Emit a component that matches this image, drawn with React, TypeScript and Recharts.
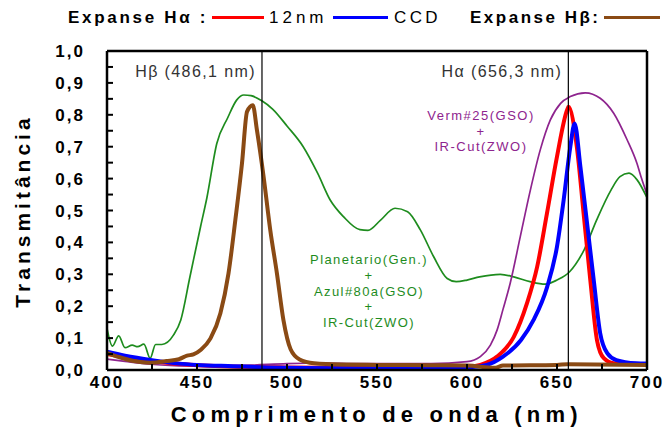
import React from 'react';
import { LineChart, Line, XAxis, YAxis, ReferenceLine } from 'recharts';

const FONT = '"Liberation Sans", Arial, sans-serif';

const COLORS = {
  planetario: '#1e8c1e',
  verm: '#8e248e',
  red12: '#ff0000',
  ccd: '#0000ff',
  hbeta: '#8a4a14',
};

const xTicks = [400, 425, 450, 475, 500, 525, 550, 575, 600, 625, 650, 675, 700];
const yTicks = [0, 0.05, 0.1, 0.15, 0.2, 0.25, 0.3, 0.35, 0.4, 0.45, 0.5, 0.55, 0.6, 0.65, 0.7, 0.75, 0.8, 0.85, 0.9, 0.95, 1];

const hBetaLine = 486.1;
const hAlphaLine = 656.3;

// Planetario(Gen.) + Azul#80a(GSO) + IR-Cut(ZWO)
const planetario = [
  { x: 400, y: 0.13 }, { x: 403, y: 0.075 }, { x: 406.5, y: 0.107 }, { x: 410, y: 0.07 },
  { x: 414, y: 0.078 }, { x: 417, y: 0.073 }, { x: 420.5, y: 0.081 }, { x: 424, y: 0.037 },
  { x: 427, y: 0.08 }, { x: 430.5, y: 0.08 }, { x: 437, y: 0.11 }, { x: 441, y: 0.157 },
  { x: 446, y: 0.29 }, { x: 452, y: 0.45 }, { x: 455.5, y: 0.54 }, { x: 461, y: 0.71 },
  { x: 467, y: 0.79 }, { x: 472, y: 0.846 }, { x: 476, y: 0.862 }, { x: 480, y: 0.86 },
  { x: 486, y: 0.844 }, { x: 492, y: 0.818 }, { x: 500, y: 0.765 }, { x: 509, y: 0.7 },
  { x: 517, y: 0.617 }, { x: 524, y: 0.533 }, { x: 531.5, y: 0.48 }, { x: 540.5, y: 0.44 },
  { x: 545, y: 0.438 }, { x: 552, y: 0.47 }, { x: 560, y: 0.507 }, { x: 567, y: 0.496 },
  { x: 574, y: 0.44 }, { x: 581.5, y: 0.355 }, { x: 589, y: 0.287 }, { x: 594, y: 0.277 },
  { x: 600, y: 0.282 }, { x: 607, y: 0.292 }, { x: 618.5, y: 0.3 }, { x: 626, y: 0.292 },
  { x: 635, y: 0.277 }, { x: 643.5, y: 0.269 }, { x: 650, y: 0.282 }, { x: 657, y: 0.308 },
  { x: 665, y: 0.376 }, { x: 672, y: 0.47 }, { x: 680, y: 0.564 }, { x: 685, y: 0.606 },
  { x: 690, y: 0.617 }, { x: 694.5, y: 0.596 }, { x: 700, y: 0.54 },
];

// Verm#25(GSO) + IR-Cut(ZWO)
const verm = [
  { x: 400, y: 0.034 }, { x: 410, y: 0.027 }, { x: 424, y: 0.018 }, { x: 440, y: 0.013 },
  { x: 460, y: 0.012 }, { x: 480, y: 0.015 }, { x: 500, y: 0.02 }, { x: 520, y: 0.022 },
  { x: 540, y: 0.02 }, { x: 560, y: 0.02 }, { x: 580, y: 0.02 }, { x: 600, y: 0.026 },
  { x: 607.4, y: 0.042 }, { x: 613, y: 0.078 }, { x: 616.7, y: 0.125 }, { x: 620, y: 0.19 },
  { x: 624, y: 0.272 }, { x: 629.6, y: 0.418 }, { x: 635.2, y: 0.564 }, { x: 640.7, y: 0.69 },
  { x: 646.3, y: 0.784 }, { x: 652, y: 0.836 }, { x: 657.4, y: 0.857 }, { x: 665.7, y: 0.869 },
  { x: 674, y: 0.852 }, { x: 681.5, y: 0.805 }, { x: 689, y: 0.721 }, { x: 694.4, y: 0.648 },
  { x: 697, y: 0.6 }, { x: 700, y: 0.55 },
];

// Expanse H-alpha 12nm
const red12nm = [
  { x: 400, y: 0.05 }, { x: 425, y: 0.028 }, { x: 450, y: 0.015 }, { x: 500, y: 0.008 },
  { x: 550, y: 0.006 }, { x: 600, y: 0.01 }, { x: 607.4, y: 0.016 }, { x: 616.7, y: 0.042 },
  { x: 626, y: 0.104 }, { x: 633.3, y: 0.209 }, { x: 639, y: 0.324 }, { x: 644.4, y: 0.49 },
  { x: 650, y: 0.669 }, { x: 655.6, y: 0.815 }, { x: 656.4, y: 0.825 }, { x: 661, y: 0.7 },
  { x: 664.8, y: 0.49 }, { x: 668.5, y: 0.282 }, { x: 672.2, y: 0.094 }, { x: 676, y: 0.037 },
  { x: 681.5, y: 0.021 }, { x: 700, y: 0.018 },
];

// Expanse H-alpha CCD
const ccd = [
  { x: 400, y: 0.057 }, { x: 410, y: 0.045 }, { x: 425, y: 0.031 }, { x: 440, y: 0.02 },
  { x: 450, y: 0.016 }, { x: 470, y: 0.012 }, { x: 490, y: 0.008 }, { x: 510, y: 0.006 },
  { x: 540, y: 0.005 }, { x: 570, y: 0.006 }, { x: 600, y: 0.008 }, { x: 611, y: 0.016 },
  { x: 620, y: 0.042 }, { x: 630, y: 0.094 }, { x: 637, y: 0.157 }, { x: 644.5, y: 0.26 },
  { x: 650, y: 0.387 }, { x: 653.7, y: 0.533 }, { x: 657.4, y: 0.7 }, { x: 659.8, y: 0.773 },
  { x: 663, y: 0.637 }, { x: 666.7, y: 0.46 }, { x: 670.4, y: 0.282 }, { x: 674, y: 0.115 },
  { x: 678, y: 0.052 }, { x: 683, y: 0.031 }, { x: 694, y: 0.021 }, { x: 700, y: 0.02 },
];

// Expanse H-beta
const hBeta = [
  { x: 400, y: 0.054 }, { x: 407, y: 0.04 }, { x: 415, y: 0.028 }, { x: 424, y: 0.023 },
  { x: 433, y: 0.028 }, { x: 440, y: 0.034 }, { x: 444.5, y: 0.045 }, { x: 448, y: 0.049 },
  { x: 452, y: 0.063 }, { x: 457.5, y: 0.099 }, { x: 463, y: 0.178 }, { x: 467.5, y: 0.303 },
  { x: 471.3, y: 0.47 }, { x: 475, y: 0.648 }, { x: 477.8, y: 0.81 }, { x: 481, y: 0.83 },
  { x: 483.3, y: 0.752 }, { x: 487, y: 0.606 }, { x: 490.7, y: 0.439 }, { x: 494.4, y: 0.303 },
  { x: 498, y: 0.157 }, { x: 502, y: 0.065 }, { x: 507, y: 0.033 }, { x: 515, y: 0.021 },
  { x: 530, y: 0.017 }, { x: 550, y: 0.016 }, { x: 580, y: 0.015 }, { x: 600, y: 0.014 },
  { x: 615.8, y: 0.007 }, { x: 620, y: 0.014 }, { x: 650, y: 0.016 }, { x: 656, y: 0.018 },
  { x: 700, y: 0.016 },
];

const fmtX = (v: number) => (v % 50 === 0 ? String(v) : '');
const fmtY = (v: number) =>
  Math.round(v * 100) % 10 === 0 ? v.toFixed(1).replace('.', ',') : '';

function LineTag(props: any) {
  const { viewBox, text } = props;
  if (!viewBox) return null;
  return (
    <text
      x={viewBox.x - 6}
      y={viewBox.y + 26}
      textAnchor="end"
      fontFamily={FONT}
      fontSize={16}
      letterSpacing={1.4}
      fill="#333"
    >
      {text}
    </text>
  );
}

const axisLine = { stroke: '#000', strokeWidth: 2.5 };
const tickLine = { stroke: '#000', strokeWidth: 2 };
const tickFont = { fill: '#000', fontSize: 17, fontWeight: 'bold', fontFamily: FONT, letterSpacing: 2 };

function LegendSwatch({ left, width, color }: { left: number; width: number; color: string }) {
  return (
    <div style={{ position: 'absolute', left, top: 8, width, height: 3, background: color }} />
  );
}

export default function App() {
  const text = (left: number, label: string, bold: boolean, spacing: number) => (
    <span
      style={{
        position: 'absolute',
        left,
        top: 0,
        lineHeight: '20px',
        fontSize: 17,
        fontWeight: bold ? 'bold' : 'normal',
        letterSpacing: spacing,
        whiteSpace: 'nowrap',
      }}
    >
      {label}
    </span>
  );

  return (
    <div style={{ position: 'relative', width: 656, height: 425, fontFamily: FONT, color: '#000' }}>
      <LineChart width={656} height={425} margin={{ top: 42, right: 16, bottom: 0, left: 0 }}>
        <XAxis
          xAxisId="b"
          type="number"
          dataKey="x"
          domain={[400, 700]}
          ticks={xTicks}
          interval={0}
          tickSize={-6}
          tickMargin={12}
          tickFormatter={fmtX}
          height={63}
          axisLine={axisLine}
          tickLine={tickLine}
          tick={tickFont}
        />
        <XAxis
          xAxisId="t"
          orientation="top"
          type="number"
          dataKey="x"
          domain={[400, 700]}
          ticks={xTicks}
          interval={0}
          tickSize={-6}
          tick={false}
          height={1}
          axisLine={axisLine}
          tickLine={tickLine}
        />
        <YAxis
          yAxisId="l"
          type="number"
          domain={[0, 1]}
          ticks={yTicks}
          interval={0}
          tickSize={-6}
          tickMargin={28}
          tickFormatter={fmtY}
          width={99}
          axisLine={axisLine}
          tickLine={tickLine}
          tick={tickFont}
        />
        <YAxis
          yAxisId="r"
          orientation="right"
          type="number"
          domain={[0, 1]}
          ticks={yTicks}
          interval={0}
          tickSize={-6}
          tick={false}
          width={1}
          axisLine={axisLine}
          tickLine={tickLine}
        />
        <Line xAxisId="b" yAxisId="l" data={planetario} dataKey="y" type="monotone" stroke={COLORS.planetario} strokeWidth={1.7} dot={false} isAnimationActive={false} />
        <Line xAxisId="b" yAxisId="l" data={verm} dataKey="y" type="monotone" stroke={COLORS.verm} strokeWidth={1.7} dot={false} isAnimationActive={false} />
        <Line xAxisId="b" yAxisId="l" data={red12nm} dataKey="y" type="monotone" stroke={COLORS.red12} strokeWidth={4} dot={false} isAnimationActive={false} />
        <Line xAxisId="b" yAxisId="l" data={ccd} dataKey="y" type="monotone" stroke={COLORS.ccd} strokeWidth={4} dot={false} isAnimationActive={false} />
        <Line xAxisId="b" yAxisId="l" data={hBeta} dataKey="y" type="monotone" stroke={COLORS.hbeta} strokeWidth={4} dot={false} isAnimationActive={false} />
        <ReferenceLine xAxisId="b" yAxisId="l" x={hBetaLine} stroke="#000" strokeWidth={1.2} label={<LineTag text="Hβ (486,1 nm)" />} />
        <ReferenceLine xAxisId="b" yAxisId="l" x={hAlphaLine} stroke="#000" strokeWidth={1.2} label={<LineTag text="Hα (656,3 nm)" />} />
      </LineChart>

      {/* legend */}
      {text(60, 'Expanse Hα :', true, 2.7)}
      <LegendSwatch left={204} width={52} color={COLORS.red12} />
      {text(261, '12nm', false, 4)}
      <LegendSwatch left={325} width={55} color={COLORS.ccd} />
      {text(386, 'CCD', false, 3.4)}
      {text(462, 'Expanse Hβ:', true, 2.5)}
      <LegendSwatch left={596} width={56} color={COLORS.hbeta} />

      {/* filter annotations */}
      <div
        style={{
          position: 'absolute', left: 373, top: 100, width: 200, textAlign: 'center',
          fontSize: 13, lineHeight: '15.5px', letterSpacing: 1.5, color: COLORS.verm,
        }}
      >
        Verm#25(GSO)<br />+<br />IR-Cut(ZWO)
      </div>
      <div
        style={{
          position: 'absolute', left: 261, top: 244, width: 200, textAlign: 'center',
          fontSize: 13, lineHeight: '15.8px', letterSpacing: 1.4, color: COLORS.planetario,
        }}
      >
        Planetario(Gen.)<br />+<br />Azul#80a(GSO)<br />+<br />IR-Cut(ZWO)
      </div>

      {/* axis titles */}
      <div
        style={{
          position: 'absolute', left: 368.7 - 300, top: 395, width: 600, textAlign: 'center',
          fontSize: 22, fontWeight: 'bold', letterSpacing: 5.2, lineHeight: '24px', whiteSpace: 'nowrap',
        }}
      >
        Comprimento de onda (nm)
      </div>
      <div
        style={{
          position: 'absolute', left: 14.5 - 150, top: 202.5 - 12, width: 300, textAlign: 'center',
          fontSize: 21, fontWeight: 'bold', letterSpacing: 4, lineHeight: '24px',
          transform: 'rotate(-90deg)', whiteSpace: 'nowrap',
        }}
      >
        Transmitância
      </div>
    </div>
  );
}
